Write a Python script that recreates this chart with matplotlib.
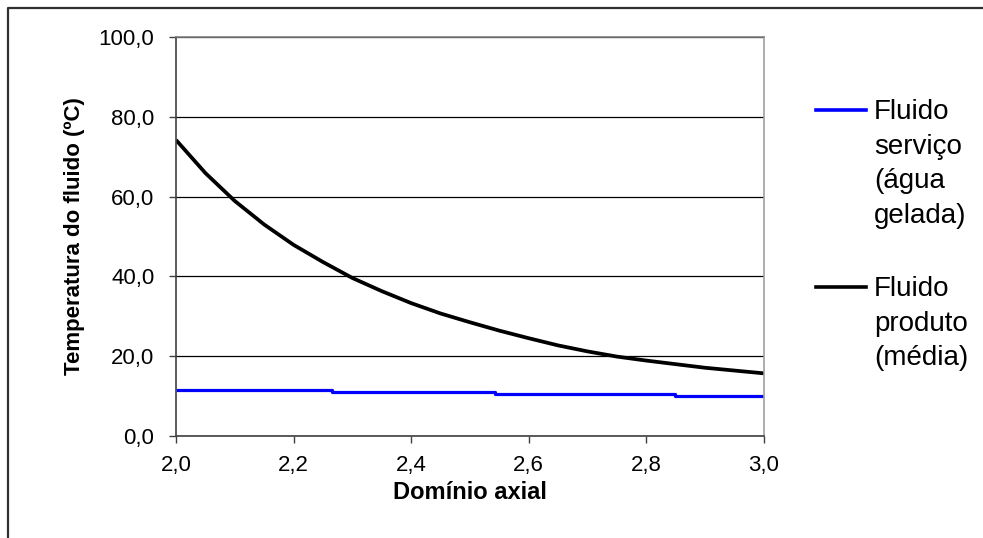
import numpy as np
import matplotlib
matplotlib.use("Agg")
import matplotlib.pyplot as plt
from matplotlib.lines import Line2D

plt.rcParams['font.family'] = ['Liberation Sans', 'DejaVu Sans']

# axial position (m) and mean product temperature (ºC)
x_produto = [2.00, 2.05, 2.10, 2.15, 2.20, 2.25, 2.30, 2.35, 2.40, 2.45, 2.50,
             2.55, 2.60, 2.65, 2.70, 2.75, 2.80, 2.85, 2.90, 2.95, 3.00]
t_produto = [74.2, 65.9, 58.9, 53.0, 47.9, 43.6, 39.6, 36.3, 33.3, 30.7, 28.5,
             26.4, 24.5, 22.7, 21.2, 19.9, 18.9, 18.0, 17.1, 16.4, 15.7]

# chilled water temperature (ºC), piecewise constant along the axis
x_servico = [2.000, 2.265, 2.543, 2.849, 3.000]
t_servico = [11.5, 11.0, 10.5, 10.1, 10.1]

x_ticks = [2.0, 2.2, 2.4, 2.6, 2.8, 3.0]
x_ticklabels = ['2,0', '2,2', '2,4', '2,6', '2,8', '3,0']
y_ticks = [0, 20, 40, 60, 80, 100]
y_ticklabels = ['0,0', '20,0', '40,0', '60,0', '80,0', '100,0']

labels = ['Fluido\nserviço\n(água\ngelada)', 'Fluido\nproduto\n(média)']
colors = ['#0000ff', '#000000']

W, H = 983, 538
fig = plt.figure(figsize=(W / 100, H / 100), dpi=100)

def fx(px):
    return px / W

def fy(py):
    return 1 - py / H

ax = fig.add_axes([fx(176), fy(436), fx(764) - fx(176), fy(37) - fy(436)])

ax.plot(x_servico, t_servico, color=colors[0], lw=2.3, drawstyle='steps-post',
        solid_capstyle='butt')
ax.plot(x_produto, t_produto, color=colors[1], lw=2.7, solid_capstyle='butt')

ax.set_xlim(2.0, 3.0)
ax.set_ylim(0, 100)
ax.set_xticks(x_ticks)
ax.set_xticklabels(x_ticklabels)
ax.set_yticks(y_ticks)
ax.set_yticklabels(y_ticklabels)
ax.tick_params(direction='out', length=5, width=1, colors='#404040',
               labelcolor='black', labelsize=16)
ax.tick_params(axis='y', pad=10.5)
ax.tick_params(axis='x', pad=9)

ax.grid(axis='y', color='black', lw=0.9)
ax.set_axisbelow(True)
ax.spines['left'].set_color('#404040')
ax.spines['bottom'].set_color('#404040')
ax.spines['top'].set_color('#808080')
ax.spines['right'].set_color('#a0a0a0')
for s in ax.spines.values():
    s.set_linewidth(1.2)

ax.set_xlabel('Domínio axial', fontsize=17, fontweight='bold', labelpad=3)
ax.set_ylabel('Temperatura do fluido (ºC)', fontsize=16, fontweight='bold',
              labelpad=10)

# legend drawn by hand so each line sits on the first text row
for i, (lab, c) in enumerate(zip(labels, colors)):
    yrow = [110, 287][i]
    fig.add_artist(Line2D([fx(816), fx(866)], [fy(yrow), fy(yrow)],
                          color=c, lw=2.6))
    fig.text(fx(874), fy(yrow - 11), lab, fontsize=20, va='top',
             ha='left', linespacing=1.43,
             transform=fig.transFigure)

# outer chart frame (only top and left edges fall inside the image)
fig.add_artist(Line2D([fx(8), fx(8), 1.0], [0.0, fy(8), fy(8)],
                      color='#303030', lw=1.6))

fig.savefig('out.png', dpi=100)
